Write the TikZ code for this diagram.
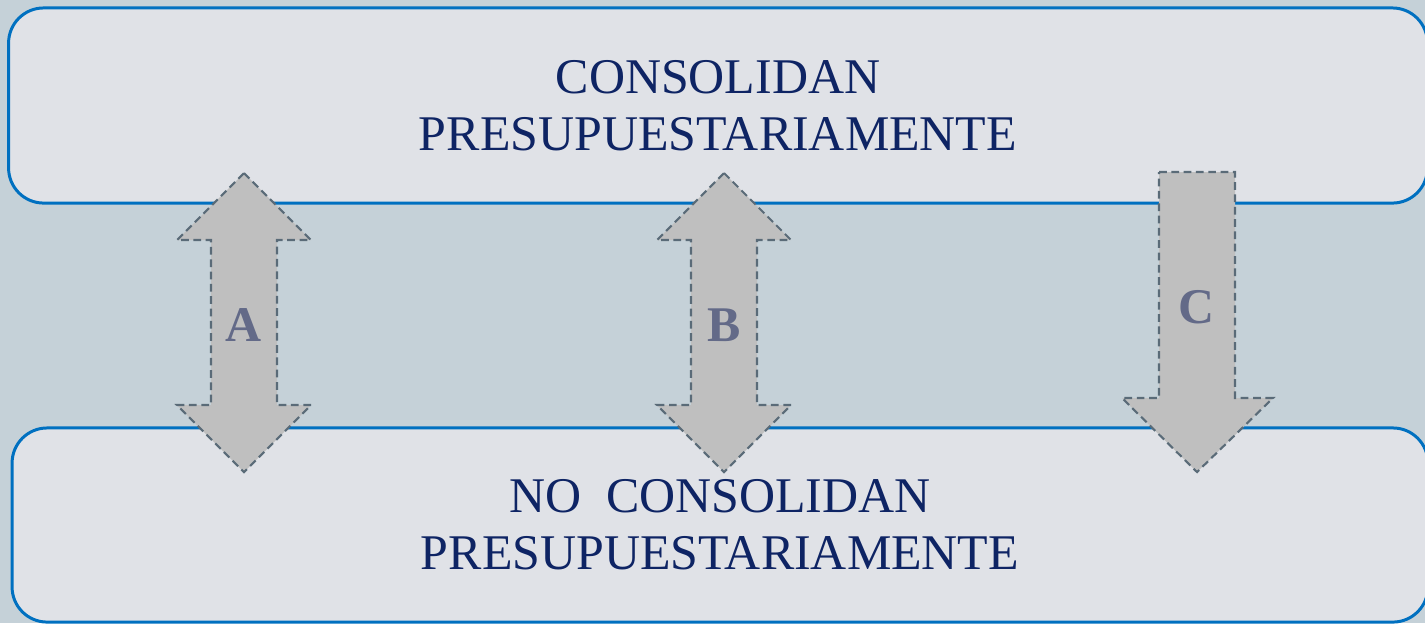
\documentclass[tikz,border=0pt]{standalone}
\usepackage{fontspec}
\setmainfont{Liberation Serif}
\definecolor{bgcol}{RGB}{197,209,216}
\definecolor{panelfill}{RGB}{224,226,231}
\definecolor{panelblue}{RGB}{0,112,192}
\definecolor{navytext}{RGB}{14,36,100}
\definecolor{arrowfill}{RGB}{191,191,191}
\definecolor{arrowline}{RGB}{90,107,120}
\definecolor{tagcol}{RGB}{99,106,136}

\begin{document}
\begin{tikzpicture}[x=0.01cm, y=-0.01cm,
    panel/.style={shape=rectangle, rounded corners=0.35cm, draw=panelblue, line width=0.85pt, fill=panelfill, text=navytext, align=center, inner sep=0pt, font=\fontsize{14.2}{16.3}\selectfont},
    blockarrow/.style={fill=arrowfill, draw=arrowline, dash pattern=on 2.2pt off 1.3pt, line width=0.6pt},
    tag/.style={text=tagcol, font=\fontsize{14.2}{16}\selectfont\bfseries}]
    \clip (0,0) rectangle (1425,623);
    \fill[bgcol] (0,0) rectangle (1425,623);
    \node[panel, minimum width=14.18cm, minimum height=1.95cm] at (718,105.5) (P0) {CONSOLIDAN\\PRESUPUESTARIAMENTE};
    \node[panel, minimum width=14.15cm, minimum height=1.94cm] at (720,525) (P1) {NO~~CONSOLIDAN\\PRESUPUESTARIAMENTE};
    % arrows between the two panels
    \draw[blockarrow] (244,173) -- (311,240) -- (277,240) -- (277,405) -- (311,405) -- (244,472) -- (177,405) -- (211,405) -- (211,240) -- (177,240) -- cycle;
    \draw[blockarrow] (724,173) -- (791,240) -- (757,240) -- (757,405) -- (791,405) -- (724,472) -- (657,405) -- (691,405) -- (691,240) -- (657,240) -- cycle;
    \draw[blockarrow] (1159,172) -- (1235,172) -- (1235,398) -- (1273,398) -- (1197,472) -- (1122,398) -- (1159,398) -- cycle;
    \node[tag] at (244,325) (TA) {A};
    \node[tag] at (724,325) (TB) {B};
    \node[tag] at (1197,307) (TC) {C};
\end{tikzpicture}
\end{document}
